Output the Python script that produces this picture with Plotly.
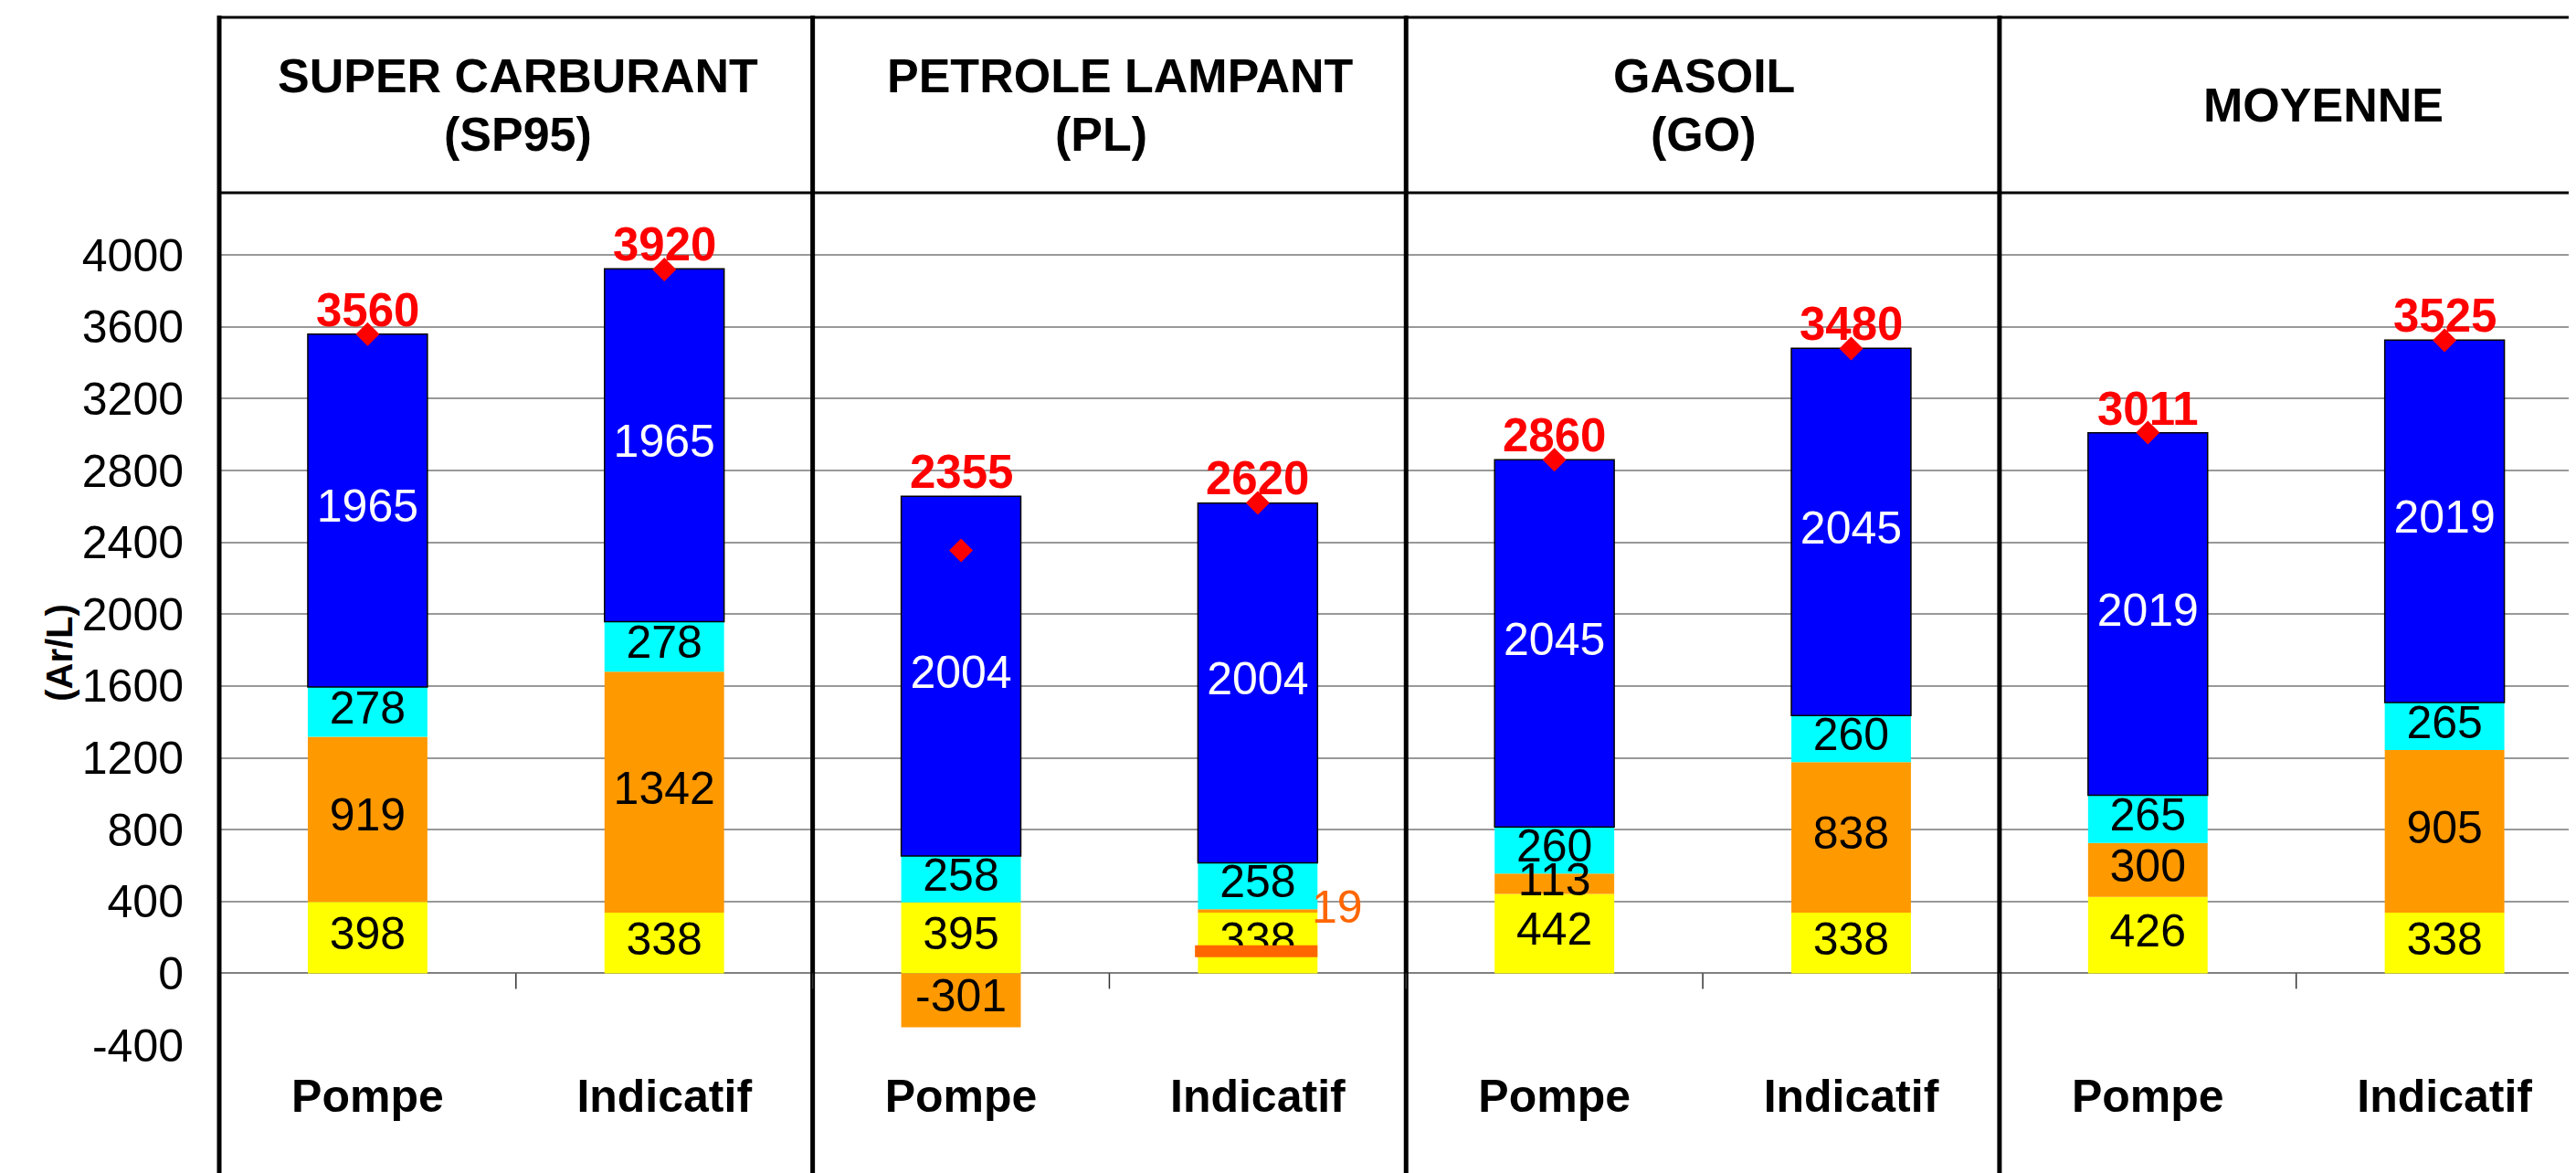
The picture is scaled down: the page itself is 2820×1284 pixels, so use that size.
import plotly.graph_objects as go

# --- données (Ar/L) ---
groupes = [["SUPER CARBURANT", "(SP95)"], ["PETROLE LAMPANT", "(PL)"], ["GASOIL", "(GO)"], ["MOYENNE"]]
barres = ["Pompe", "Indicatif"] * 4

jaune = [398, 338, 395, 338, 442, 338, 426, 338]
orange = [919, 1342, -301, 19, 113, 838, 300, 905]
cyan = [278, 278, 258, 258, 260, 260, 265, 265]
bleu = [1965, 1965, 2004, 2004, 2045, 2045, 2019, 2019]
prix = [3560, 3920, 2355, 2620, 2860, 3480, 3011, 3525]

graduations = list(range(-400, 4001, 400))

# segment orange trop fin : étiquette sortie à droite de la barre
orange_dehors = [3]
trait_pl = 123  # trait orange foncé sur la barre PL Indicatif

police = "Liberation Sans, Arial, sans-serif"
x = list(range(len(barres)))
larg = 0.403

fig = go.Figure()

series = [
    (jaune, "#FFFF00", "black", 0),
    (orange, "#FF9900", "black", 0),
    (cyan, "#00FFFF", "black", 0),
    (bleu, "#0000FF", "white", 1.5),
]
for vals, couleur, tcol, lw in series:
    fig.add_trace(go.Bar(
        x=x, y=vals, width=larg,
        marker=dict(color=couleur, line=dict(color="black", width=lw)),
        hoverinfo="skip",
    ))

# étiquettes des segments, dessinées au-dessus de toutes les barres
ex, ey, et, ec = [], [], [], []
pos = [0] * len(x)
neg = [0] * len(x)
for vals, couleur, tcol, lw in series:
    for i, v in enumerate(vals):
        if v >= 0:
            milieu = pos[i] + v / 2
            pos[i] += v
        else:
            milieu = neg[i] + v / 2
            neg[i] += v
        if vals is orange and i in orange_dehors:
            continue
        ex.append(i)
        ey.append(milieu)
        et.append(str(v))
        ec.append(tcol)

fig.add_trace(go.Scatter(
    x=ex, y=ey, text=et, mode="text", textposition="middle center",
    textfont=dict(family=police, size=50, color=ec), hoverinfo="skip",
))

fig.add_trace(go.Scatter(
    x=x, y=prix, mode="markers",
    marker=dict(symbol="diamond", size=20, color="#FF0000"),
    hoverinfo="skip",
))

annotations = []
# prix en rouge au-dessus de chaque barre
for i in x:
    annotations.append(dict(
        x=i, y=max(prix[i], pos[i]), xref="x", yref="y",
        text="<b>%d</b>" % prix[i], showarrow=False,
        yanchor="bottom", yshift=-4,
        font=dict(family=police, size=51, color="#FF0000"),
    ))

for i in orange_dehors:
    annotations.append(dict(
        x=i + larg / 2, y=jaune[i] + orange[i], xref="x", yref="y",
        text=str(orange[i]), showarrow=False, xanchor="left", yanchor="middle",
        xshift=-8, yshift=2,
        font=dict(family=police, size=50, color="#FF6600"),
    ))

# titres des colonnes
decal = [[2, 2], [12, -9], [1, 1], [30]]
for g, lignes in enumerate(groupes):
    n = len(lignes)
    for k, ligne in enumerate(lignes):
        annotations.append(dict(
            x=2 * g + 0.5, y=1.103, xref="x", yref="paper",
            text="<b>%s</b>" % ligne, showarrow=False, xshift=decal[g][k],
            yshift=32 * (n - 1) - 64 * k,
            yanchor="middle", font=dict(family=police, size=52, color="black"),
        ))

annotations.append(dict(
    x=0, y=0.46, xref="paper", yref="paper", xshift=-199,
    text="<b>(Ar/L)</b>", textangle=-90, showarrow=False,
    font=dict(family=police, size=40, color="black"),
))

shapes = []
# cadre du tableau
shapes.append(dict(type="line", xref="paper", yref="paper", x0=0, x1=0,
                   y0=-0.2, y1=1.208, line=dict(color="black", width=5)))
for g in range(1, len(groupes)):
    shapes.append(dict(type="line", xref="x", yref="paper", x0=2 * g - 0.5, x1=2 * g - 0.5,
                       y0=-0.2, y1=1.208, line=dict(color="black", width=5)))
for yy in (1.2058, 1.0):
    shapes.append(dict(type="line", xref="paper", yref="paper", x0=0, x1=1,
                       y0=yy, y1=yy, line=dict(color="black", width=3)))
# petites graduations sur l'axe à 0
for i in x[:-1]:
    shapes.append(dict(type="line", xref="x", yref="y", ysizemode="pixel", yanchor=0,
                       x0=i + 0.5, x1=i + 0.5, y0=0, y1=-17,
                       line=dict(color="#333333", width=1.5)))
shapes.append(dict(type="line", xref="x", yref="y", x0=3 - larg / 2 - 0.01, x1=3 + larg / 2,
                   y0=trait_pl, y1=trait_pl, line=dict(color="#FF6600", width=13)))

# la page html garde une marge de 8 px autour du graphique
fig.update_layout(
    width=2812, height=1276,
    margin=dict(l=232, r=0, t=203, b=140, autoexpand=False),
    barmode="relative", showlegend=False,
    plot_bgcolor="white", paper_bgcolor="white",
    annotations=annotations, shapes=shapes,
    xaxis=dict(
        range=[-0.5, 7.443], tickvals=x, ticktext=["<b>%s</b>" % b for b in barres],
        showgrid=False, zeroline=False, showline=False, ticks="",
        tickfont=dict(family=police, size=50, color="black"), ticklabelstandoff=22,
    ),
    yaxis=dict(
        range=[-400, 4347], tickvals=graduations, ticktext=[str(v) for v in graduations],
        showgrid=True, gridcolor="#999999", gridwidth=2,
        zeroline=True, zerolinecolor="#808080", zerolinewidth=2,
        ticks="", showline=False, ticklabelstandoff=38,
        tickfont=dict(family=police, size=50, color="black"),
    ),
)

fig.write_html("out.html")
